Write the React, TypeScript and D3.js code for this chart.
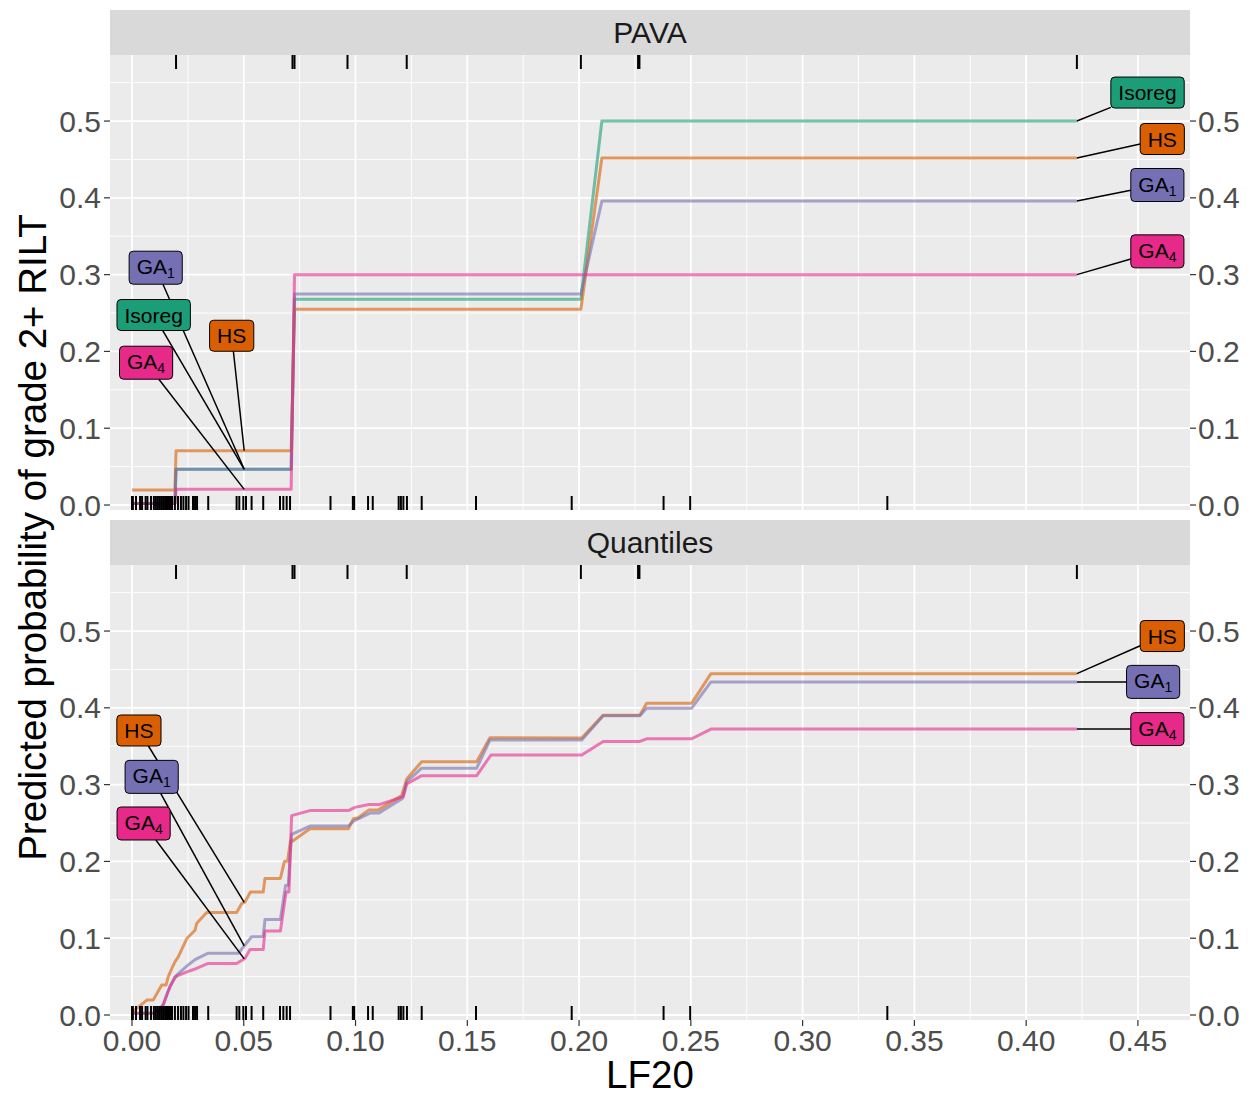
import React from 'react';
import * as d3 from 'd3';

// ---------- data ----------
const xTicks = [0, 0.05, 0.1, 0.15, 0.2, 0.25, 0.3, 0.35, 0.4, 0.45];
const xTickLabels = ['0.00', '0.05', '0.10', '0.15', '0.20', '0.25', '0.30', '0.35', '0.40', '0.45'];
const xMinor = [0.025, 0.075, 0.125, 0.175, 0.225, 0.275, 0.325, 0.375, 0.425];
const yTicks = [0, 0.1, 0.2, 0.3, 0.4, 0.5];
const yTickLabels = ['0.0', '0.1', '0.2', '0.3', '0.4', '0.5'];
const yMinor = [0.05, 0.15, 0.25, 0.35, 0.45, 0.55];
const panelNames = ['PAVA', 'Quantiles'];
const seriesNames = ['Isoreg', 'HS', 'GA1', 'GA4'];
const seriesColors = ['#1B9E77', '#D95F02', '#7570B3', '#E7298A'];

// LF20 of patients with grade 2+ RILT (top rug) and without (bottom rug)
const eventLF20 = [0.0197, 0.0718, 0.0727, 0.0964, 0.1229, 0.2008, 0.2264, 0.227, 0.4227];
const nonEventLF20 = [
  0.0, 0.0004, 0.0018, 0.0036, 0.0045, 0.0061, 0.0069, 0.0085, 0.0098, 0.0107, 0.0116,
  0.0125, 0.0134, 0.0143, 0.0152, 0.0161, 0.017, 0.0179, 0.0192, 0.0206, 0.0219, 0.023,
  0.0242, 0.0253, 0.0273, 0.0282, 0.0291, 0.0341, 0.0468, 0.048, 0.0498, 0.051, 0.0535,
  0.0587, 0.0662, 0.0677, 0.0692, 0.0707, 0.0888, 0.0988, 0.0994, 0.1056, 0.1077, 0.1193,
  0.1203, 0.1214, 0.123, 0.1296, 0.1539, 0.1967, 0.2378, 0.2497, 0.3379,
];

// PAVA panel
const pavaX = [0, 0.0192, 0.0197, 0.0712, 0.0727, 0.2008, 0.2102, 0.4227];
const pavaIsoreg = [0.002, 0.002, 0.0465, 0.0465, 0.268, 0.268, 0.5, 0.5];
const pavaHS = [0.0195, 0.0195, 0.0707, 0.0707, 0.255, 0.255, 0.4518, 0.4518];
const pavaGA1 = [0.002, 0.002, 0.0465, 0.0465, 0.2747, 0.2747, 0.3958, 0.3958];
const pavaGA4 = [0.002, 0.002, 0.0204, 0.0204, 0.3, 0.3, 0.3, 0.3];

// Quantiles panel
const quantHS: [number, number][] = [
  [0.0003, 0.004], [0.0066, 0.0195], [0.0095, 0.0195], [0.0133, 0.039], [0.0152, 0.039],
  [0.0162, 0.0497], [0.0178, 0.0606], [0.0192, 0.0692], [0.0207, 0.0757], [0.0245, 0.0996],
  [0.0282, 0.1104], [0.0289, 0.1191], [0.0334, 0.1334], [0.0468, 0.1334], [0.0491, 0.1451],
  [0.0505, 0.1471], [0.053, 0.1601], [0.0587, 0.1601], [0.0595, 0.1779], [0.0664, 0.1779],
  [0.0682, 0.2], [0.0696, 0.2006], [0.0709, 0.2266], [0.0716, 0.226], [0.0796, 0.2425],
  [0.0968, 0.2425], [0.099, 0.2555], [0.1012, 0.2568], [0.106, 0.2671], [0.1102, 0.2671],
  [0.1206, 0.2857], [0.1229, 0.3074], [0.1296, 0.3299], [0.1542, 0.3299], [0.1601, 0.361],
  [0.2012, 0.3606], [0.2108, 0.3905], [0.2272, 0.3905], [0.2302, 0.4061], [0.2504, 0.4061],
  [0.259, 0.4445], [0.4227, 0.4445],
];
const quantGA1: [number, number][] = [
  [0.0003, 0.0022], [0.0118, 0.0022], [0.0143, 0.0156], [0.017, 0.0377], [0.02, 0.0519],
  [0.0245, 0.0636], [0.0282, 0.0721], [0.0341, 0.0805], [0.0476, 0.0805], [0.0501, 0.0896],
  [0.0535, 0.1019], [0.0587, 0.1019], [0.0595, 0.1243], [0.0664, 0.1243], [0.0687, 0.1688],
  [0.0699, 0.1688], [0.0714, 0.2351], [0.0796, 0.2461], [0.0968, 0.2461], [0.0993, 0.2529],
  [0.1065, 0.263], [0.1105, 0.263], [0.121, 0.2821], [0.1229, 0.3035], [0.1296, 0.3214],
  [0.1542, 0.3214], [0.1601, 0.3581], [0.2012, 0.3581], [0.2108, 0.3896], [0.2272, 0.3896],
  [0.2302, 0.3996], [0.2504, 0.3996], [0.259, 0.4338], [0.4227, 0.4338],
];
const quantGA4: [number, number][] = [
  [0.0003, 0.0022], [0.0103, 0.0022], [0.0139, 0.013], [0.0162, 0.0312], [0.0192, 0.0497],
  [0.0245, 0.0562], [0.0289, 0.0606], [0.0341, 0.0671], [0.0468, 0.0671], [0.0505, 0.0736],
  [0.0528, 0.0853], [0.0587, 0.0853], [0.0595, 0.1095], [0.0664, 0.1095], [0.0689, 0.1601],
  [0.0702, 0.1601], [0.0714, 0.2597], [0.0796, 0.2662], [0.0968, 0.2662], [0.0997, 0.2704],
  [0.106, 0.274], [0.1105, 0.274], [0.1214, 0.2844], [0.1229, 0.3009], [0.1296, 0.3117],
  [0.1542, 0.3117], [0.1606, 0.3386], [0.2012, 0.3386], [0.2108, 0.3562], [0.2272, 0.3562],
  [0.2302, 0.3597], [0.2504, 0.3597], [0.259, 0.3723], [0.4227, 0.3723],
];

// label placements: series index, anchor LF20, box centre (LF20, prob)
const pavaLabels = [
  { s: 0, ax: 0.4227, bx: 0.4543, by: 0.5371 },
  { s: 1, ax: 0.4227, bx: 0.4609, by: 0.4766 },
  { s: 2, ax: 0.4227, bx: 0.4587, by: 0.4167 },
  { s: 3, ax: 0.4227, bx: 0.4587, by: 0.3303 },
  { s: 2, ax: 0.0502, bx: 0.0106, by: 0.309 },
  { s: 0, ax: 0.0502, bx: 0.0097, by: 0.2474 },
  { s: 1, ax: 0.0502, bx: 0.0446, by: 0.2204 },
  { s: 3, ax: 0.0502, bx: 0.0063, by: 0.1853 },
];
const quantLabels = [
  { s: 1, ax: 0.4227, bx: 0.4609, by: 0.4935 },
  { s: 2, ax: 0.4227, bx: 0.4568, by: 0.4338 },
  { s: 3, ax: 0.4227, bx: 0.4587, by: 0.3723 },
  { s: 1, ax: 0.0502, bx: 0.0031, by: 0.3705 },
  { s: 2, ax: 0.0502, bx: 0.0088, by: 0.3101 },
  { s: 3, ax: 0.0502, bx: 0.0052, by: 0.2494 },
];

// ---------- layout ----------
const W = 1255;
const H = 1095;
const FONT = '"Liberation Sans", Arial, Helvetica, sans-serif';
const panelL = 110;
const panelR = 1190;
const panelLayout = [
  { stripTop: 10, top: 55, bottom: 510 },
  { stripTop: 520, top: 565, bottom: 1020 },
];
const LABEL_FS = 21;
const SUB_FS = 14;
const TICK_FS = 30;
const TITLE_FS = 38.5;

const zipXY = (xs: number[], ys: number[]): [number, number][] => xs.map((x, i) => [x, ys[i]]);

const panelSeries: [number, number][][][] = [
  [zipXY(pavaX, pavaIsoreg), zipXY(pavaX, pavaHS), zipXY(pavaX, pavaGA1), zipXY(pavaX, pavaGA4)],
  [[], quantHS, quantGA1, quantGA4],
];
const panelLabels = [pavaLabels, quantLabels];

function interp(pts: [number, number][], x: number): number {
  for (let i = 1; i < pts.length; i++) {
    if (x <= pts[i][0]) {
      const [x0, y0] = pts[i - 1];
      const [x1, y1] = pts[i];
      const t = x1 === x0 ? 1 : (x - x0) / (x1 - x0);
      return y0 + t * (y1 - y0);
    }
  }
  return pts[pts.length - 1][1];
}

let ctx: CanvasRenderingContext2D | null = null;
function textW(t: string, fs: number): number {
  if (!ctx && typeof document !== 'undefined') {
    ctx = document.createElement('canvas').getContext('2d');
  }
  if (ctx) {
    ctx.font = `${fs}px ${FONT}`;
    return ctx.measureText(t).width;
  }
  return t.length * fs * 0.55;
}

export default function App() {
  const x = d3.scaleLinear().domain([-0.00984, 0.4733]).range([panelL, panelR]);
  const line = d3.line<[number, number]>();
  const rugLen = 14;

  return (
    <svg
      width={W}
      height={H}
      viewBox={`0 0 ${W} ${H}`}
      style={{ position: 'absolute', left: 0, top: 0, background: '#fff' }}
      fontFamily={FONT}
    >
      <rect x={0} y={0} width={W} height={H} fill="#fff" />
      {panelLayout.map((p, pi) => {
        const y = d3.scaleLinear().domain([-0.0065, 0.586]).range([p.bottom, p.top]);
        const gen = line.x((d) => x(d[0])).y((d) => y(d[1]));
        return (
          <g key={pi}>
            {/* strip */}
            <rect x={panelL} y={p.stripTop} width={panelR - panelL} height={p.top - p.stripTop} fill="#D9D9D9" />
            <text x={(panelL + panelR) / 2} y={(p.stripTop + p.top) / 2 + 10.5} textAnchor="middle" fontSize={30} fill="#1A1A1A">
              {panelNames[pi]}
            </text>
            {/* panel */}
            <rect x={panelL} y={p.top} width={panelR - panelL} height={p.bottom - p.top} fill="#EBEBEB" />
            {yMinor.map((v) => (
              <line key={'ym' + v} x1={panelL} x2={panelR} y1={y(v)} y2={y(v)} stroke="#fff" strokeWidth={0.9} />
            ))}
            {xMinor.map((v) => (
              <line key={'xm' + v} x1={x(v)} x2={x(v)} y1={p.top} y2={p.bottom} stroke="#fff" strokeWidth={0.9} />
            ))}
            {yTicks.map((v) => (
              <line key={'yM' + v} x1={panelL} x2={panelR} y1={y(v)} y2={y(v)} stroke="#fff" strokeWidth={1.8} />
            ))}
            {xTicks.map((v) => (
              <line key={'xM' + v} x1={x(v)} x2={x(v)} y1={p.top} y2={p.bottom} stroke="#fff" strokeWidth={1.8} />
            ))}
            {/* curves */}
            {panelSeries[pi].map((pts, si) =>
              pts.length ? (
                <path key={'c' + si} d={gen(pts) || ''} fill="none" stroke={seriesColors[si]} strokeOpacity={0.6} strokeWidth={3} strokeLinejoin="round" />
              ) : null
            )}
            {/* rugs */}
            {eventLF20.map((v, i) => (
              <line key={'re' + i} x1={x(v)} x2={x(v)} y1={p.top} y2={p.top + rugLen} stroke="#000" strokeWidth={2} />
            ))}
            {nonEventLF20.map((v, i) => (
              <line key={'rn' + i} x1={x(v)} x2={x(v)} y1={p.bottom} y2={p.bottom - rugLen} stroke="#000" strokeWidth={2} />
            ))}
            {/* y axes */}
            {yTicks.map((v, i) => (
              <g key={'ya' + i}>
                <line x1={panelL - 6} x2={panelL} y1={y(v)} y2={y(v)} stroke="#333" strokeWidth={1.2} />
                <text x={panelL - 9} y={y(v) + 10.5} textAnchor="end" fontSize={TICK_FS} fill="#4D4D4D">
                  {yTickLabels[i]}
                </text>
                <line x1={panelR} x2={panelR + 6} y1={y(v)} y2={y(v)} stroke="#333" strokeWidth={1.2} />
                <text x={panelR + 8} y={y(v) + 10.5} textAnchor="start" fontSize={TICK_FS} fill="#4D4D4D">
                  {yTickLabels[i]}
                </text>
              </g>
            ))}
            {/* labels */}
            {panelLabels[pi].map((lb, li) => {
              const pts = panelSeries[pi][lb.s];
              const axp = x(lb.ax);
              const ayp = y(interp(pts, lb.ax));
              const cx = x(lb.bx);
              const cy = y(lb.by);
              const name = seriesNames[lb.s];
              const isGA = name.startsWith('GA');
              const main = isGA ? 'GA' : name;
              const sub = isGA ? name.slice(2) : '';
              const tw = textW(main, LABEL_FS) + (sub ? textW(sub, SUB_FS) : 0);
              const bw = tw + 15;
              const bh = isGA ? 33 : 31;
              const dx = axp - cx;
              const dy = ayp - cy;
              const t = Math.min(Math.abs(dx) > 0 ? bw / 2 / Math.abs(dx) : Infinity, Math.abs(dy) > 0 ? bh / 2 / Math.abs(dy) : Infinity);
              const ex = cx + dx * t;
              const ey = cy + dy * t;
              return (
                <g key={'lb' + li}>
                  {t < 1 && <line x1={axp} y1={ayp} x2={ex} y2={ey} stroke="#000" strokeWidth={1.5} />}
                  <rect x={cx - bw / 2} y={cy - bh / 2} width={bw} height={bh} rx={4} ry={4} fill={seriesColors[lb.s]} stroke="#000" strokeWidth={1} />
                  <text x={cx - tw / 2} y={cy + (isGA ? 6.5 : 7.5)} fontSize={LABEL_FS} fill="#000">
                    {main}
                    {sub && (
                      <tspan fontSize={SUB_FS} dy={4}>
                        {sub}
                      </tspan>
                    )}
                  </text>
                </g>
              );
            })}
          </g>
        );
      })}
      {/* x axis */}
      {xTicks.map((v, i) => (
        <g key={'xa' + i}>
          <line x1={x(v)} x2={x(v)} y1={1020} y2={1026} stroke="#333" strokeWidth={1.2} />
          <text x={x(v)} y={1051} textAnchor="middle" fontSize={TICK_FS} fill="#4D4D4D">
            {xTickLabels[i]}
          </text>
        </g>
      ))}
      <text x={(panelL + panelR) / 2} y={1088} textAnchor="middle" fontSize={TITLE_FS} fill="#000">
        LF20
      </text>
      <text
        transform={`translate(46, ${(55 + 1020) / 2}) rotate(-90)`}
        textAnchor="middle"
        fontSize={TITLE_FS}
        fill="#000"
      >
        Predicted probability of grade 2+ RILT
      </text>
    </svg>
  );
}
